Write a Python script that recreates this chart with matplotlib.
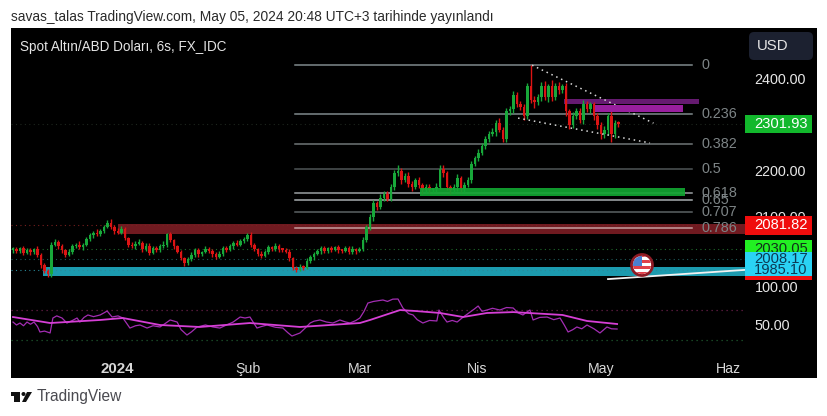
import matplotlib
matplotlib.use("Agg")
import matplotlib.pyplot as plt
from matplotlib.patches import Rectangle, Circle, Polygon, FancyBboxPatch
from matplotlib.transforms import IdentityTransform

W, H = 828, 416
plt.rcParams["font.family"] = ["Liberation Sans", "DejaVu Sans"]

# 6h candles (open = previous close)
closes = [
    2030, 2026, 2032, 2022, 2028, 2024, 2030, 2018, 1996, 1982,
    1975, 2040, 2045, 2036, 2028, 2018, 2024, 2036, 2040, 2034,
    2040, 2052, 2060, 2066, 2062, 2070, 2078, 2088, 2078, 2070,
    2066, 2074, 2054, 2040, 2036, 2042, 2044, 2030, 2038, 2022,
    2032, 2028, 2036, 2040, 2062, 2050, 2036, 2024, 2010, 2000,
    2008, 2018, 2028, 2020, 2024, 2030, 2026, 2020, 2014, 2020,
    2032, 2028, 2036, 2044, 2040, 2048, 2052, 2060, 2040, 2030,
    2020, 2016, 2024, 2034, 2030, 2038, 2030, 2028, 2024, 2010,
    1990, 1985, 1992, 1990, 2005, 2012, 2020, 2026, 2032, 2026,
    2032, 2028, 2034, 2028, 2026, 2032, 2024, 2030, 2026, 2030,
    2050, 2078, 2100, 2130, 2122, 2142, 2150, 2140, 2165, 2195,
    2200, 2180, 2190, 2172, 2165, 2180, 2170, 2158, 2166, 2158,
    2160, 2165, 2205, 2195, 2165, 2158, 2165, 2185, 2160, 2170,
    2180, 2215, 2228, 2240, 2255, 2270, 2280, 2285, 2305, 2290,
    2270, 2330, 2335, 2365, 2345, 2340, 2320, 2385, 2355, 2350,
    2360, 2385, 2360, 2385, 2360, 2385, 2375, 2385, 2330, 2300,
    2320, 2330, 2310, 2345, 2335, 2345, 2320, 2300, 2280, 2290,
    2320, 2280, 2305, 2301.93,
]
wick_up = [
    5, 4, 3, 6, 4, 5, 3, 6, 4, 3,
    4, 6, 8, 4, 5, 3, 6, 5, 4, 7,
    4, 5, 6, 4, 7, 3, 5, 6, 8, 4,
    5, 6, 4, 3, 6, 5, 8, 4, 6, 5,
    6, 4, 5, 8, 4, 6, 3, 4, 5, 3,
    4, 6, 5, 4, 3, 6, 5, 4, 4, 5,
    4, 6, 5, 3, 7, 4, 5, 6, 8, 4,
    3, 5, 4, 6, 4, 5, 4, 3, 5, 7,
    3, 4, 6, 4, 5, 6, 3, 5, 4, 6,
    3, 5, 4, 6, 3, 5, 4, 6, 3, 5,
    6, 5, 6, 7, 5, 8, 6, 7, 6, 8,
    12, 6, 5, 8, 6, 5, 8, 4, 6, 5,
    4, 8, 8, 8, 6, 4, 6, 8, 5, 6,
    7, 6, 5, 8, 6, 5, 6, 8, 6, 10,
    6, 8, 6, 8, 6, 8, 6, 6, 45, 8,
    8, 8, 10, 5, 12, 6, 8, 5, 6, 4,
    8, 6, 8, 10, 8, 6, 6, 5, 6, 8,
    6, 10, 6, 3,
]
wick_dn = [
    6, 5, 4, 5, 3, 6, 4, 5, 6, 4,
    6, 5, 3, 5, 6, 4, 3, 5, 4, 3,
    5, 3, 4, 6, 3, 4, 5, 3, 4, 6,
    4, 3, 5, 6, 4, 5, 3, 6, 4, 5,
    3, 5, 4, 3, 6, 4, 5, 3, 4, 6,
    4, 3, 4, 6, 5, 3, 4, 6, 5, 3,
    5, 4, 3, 6, 4, 3, 5, 4, 6, 5,
    4, 6, 3, 4, 5, 3, 6, 4, 3, 5,
    5, 4, 3, 6, 3, 4, 5, 3, 6, 4,
    4, 5, 3, 6, 4, 3, 5, 4, 6, 3,
    4, 5, 6, 8, 6, 5, 8, 6, 5, 6,
    6, 8, 5, 6, 8, 5, 6, 7, 5, 6,
    5, 6, 4, 8, 6, 7, 5, 8, 6, 5,
    5, 6, 5, 6, 6, 8, 6, 5, 8, 6,
    8, 6, 8, 10, 6, 8, 10, 6, 8, 14,
    6, 8, 6, 10, 8, 6, 8, 6, 10, 8,
    6, 8, 6, 8, 6, 8, 10, 8, 10, 8,
    12, 16, 8, 6,
]

# oscillator in the lower pane, read at irregular bars
rsi_bars = [
    0, 1, 2, 3, 4, 5, 6, 7, 7.7, 9, 10.6, 11.4, 12.5, 14, 15.4, 17, 18.3, 19.1,
    20.3, 21.4, 23, 24.9, 26, 26.9, 28.3, 30, 31.4, 32.5, 33.4, 35, 36.3, 38.3,
    40, 42, 43.5, 44.9, 46.9, 48, 49.7, 51, 52.6, 55, 57.1, 59.1, 61, 62.9, 64.9,
    66.3, 67.7, 69.7, 71, 72.6, 75, 77.1, 78.5, 79.7, 82, 83.5, 84.9, 86, 87.7,
    89.5, 91.4, 93.4, 95, 96.3, 98, 99.1, 100.3, 101.4, 103, 105.7, 107, 108.5,
    110, 111.4, 113, 114.3, 115.5, 117.1, 119, 121.1, 121.7, 123, 124, 125.5,
    126.9, 128.5, 130.6, 131.8, 132.9, 134, 135.4, 137, 139.1, 141, 142.9, 144.3,
    145.7, 146.8, 147.7, 148.6, 150.5, 152.6, 154.5, 156.3, 157.5, 158.6, 160,
    161.1, 162.5, 164, 166, 167.7, 169.7, 171, 172.6,
]
rsi_vals = [
    53.9, 50, 52.6, 49, 53.9, 51, 53.9, 48, 40.8, 42, 39.5, 59.2, 62, 59.2, 52.6,
    56, 59.2, 53.9, 60, 63.2, 61, 63.2, 66, 68.4, 60.5, 62, 59.2, 52, 46, 49, 50,
    46, 49, 47.4, 52, 56.6, 53.9, 44, 36.8, 41, 47.4, 50, 47.4, 46, 50, 53.9, 60.5,
    59.2, 60.5, 46, 48, 50, 47, 46, 40, 35.5, 39.5, 46, 52.6, 55, 56.6, 54, 52.6,
    56.6, 54, 52.6, 56, 59.2, 68, 78.9, 81, 82.9, 81, 84, 84.2, 72.4, 65, 63.2, 57,
    52.6, 56, 55.3, 69.7, 60, 53.9, 56, 53.9, 60, 67, 71, 75, 68, 69.7, 72, 69.7,
    73, 72.4, 66, 63.2, 67, 69.7, 56.6, 60, 60.5, 57, 59.2, 50, 40.8, 44, 47.4, 45,
    50, 45, 39.5, 47.4, 45, 44.7,
]
ma_bars = [0, 10.6, 24.9, 31.4, 42, 53.4, 67.7, 82, 99.1, 102, 110.6, 115, 122,
           128.6, 135.4, 142.9, 157, 164, 172.6]
ma_vals = [60.5, 52.6, 56.6, 59.2, 50, 47.4, 52.6, 47.4, 52.6, 56.6, 69.7, 68.4,
           65.8, 60.5, 65.8, 67, 63.2, 55.3, 51.3]

fib_high = 2430
fib_low = 1979
fib_levels = [0, 0.236, 0.382, 0.5, 0.618, 0.65, 0.707, 0.786]
fib_labels = ["0", "0.236", "0.382", "0.5", "0.618", "0.65", "0.707", "0.786"]
fib_colors = ["#7f8a8c", "#7f8a8c", "#6f7678", "#4f5557", "#9aa0a2", "#a8adaf", "#5c6264", "#c4a0a0"]

month_labels = ["2024", "Şub", "Mar", "Nis", "May", "Haz"]
month_bars = [29.7, 67.1, 99.1, 132.6, 168, 204.3]

price_ticks = [2400, 2200, 2100]
rsi_ticks = [50, 100]


def px_box(left, top, right, bottom):
    return [left / W, 1 - bottom / H, (right - left) / W, (bottom - top) / H]


def bar_at(x):
    return (x - 13) / 3.5


def price_at(y):
    return 2400 - (y - 79) * 2.174


fig = plt.figure(figsize=(W / 100, H / 100), dpi=100, facecolor="white")

bg = fig.add_axes(px_box(11, 28, 817, 378), facecolor="black", zorder=-1)
bg.set_xticks([])
bg.set_yticks([])
for s in bg.spines.values():
    s.set_visible(False)

ax = fig.add_axes(px_box(11, 28, 745, 280), facecolor="none")
ax2 = fig.add_axes(px_box(11, 280, 745, 350), facecolor="none")
for a in (ax, ax2):
    for s in a.spines.values():
        s.set_visible(False)
    a.set_xlim(bar_at(11), bar_at(745))
    a.yaxis.tick_right()
    a.tick_params(axis="y", length=0, pad=7, labelsize=10.4, labelcolor="#e6e6e6")
    a.tick_params(axis="x", length=0, labelsize=10.2, labelcolor="#d8d8d8")

ax.set_ylim(price_at(280), price_at(28))
ax.set_yticks(price_ticks, [f"{p:.2f}" for p in price_ticks])
ax.set_xticks([])

# zones
ax.add_patch(Rectangle((bar_at(118), 2063), bar_at(745) - bar_at(118), 22, color="#701a20", lw=0, zorder=1))
ax.add_patch(Rectangle((bar_at(43), 1972), bar_at(745) - bar_at(43), 19, color="#1c9aae", lw=0, zorder=1))
ax.add_patch(Rectangle((bar_at(564), 2346), bar_at(699) - bar_at(564), 11, color="#651a70", lw=0, zorder=1))
ax.add_patch(Rectangle((bar_at(595), 2328), bar_at(683) - bar_at(595), 16, color="#981f9e", lw=0, zorder=4))
ax.add_patch(Rectangle((bar_at(420), 2146), bar_at(685) - bar_at(420), 17, color="#12a632", lw=0, alpha=0.92, zorder=4))

# price lines
for p, c in [(2301.93, "#1e261e"), (2081.82, "#7a2020"), (2030.05, "#1f6a2c"), (2008.17, "#1f5a5a"), (1985.10, "#2a8a9a")]:
    ax.axhline(p, color=c, lw=0.8, ls=(0, (1, 3)), zorder=1.5)

# fib retracement
for lev, lab, c in zip(fib_levels, fib_labels, fib_colors):
    y = fib_high - (fib_high - fib_low) * lev
    ax.plot([bar_at(295), bar_at(692)], [y, y], color=c, lw=1.1, zorder=2)
    ax.text(bar_at(702), y, lab, color="#7d8486", fontsize=10.4, va="center", zorder=2.2)

# candles
prev = 2028
for i, (c, up, dn) in enumerate(zip(closes, wick_up, wick_dn)):
    col = "#18a83a" if c >= prev else "#dc1414"
    top, low = max(prev, c), min(prev, c)
    ax.vlines(i, low - dn, top + up, color=col, lw=1.0, zorder=3)
    ax.bar(i, max(top - low, 4), bottom=low, width=0.72, color=col, lw=0, zorder=3)
    prev = c

# wedge
ax.plot([148.3, 183], [2430, 2304], color="#d8d8d8", lw=1.1, ls=(0, (1, 2.5)), zorder=3.5)
ax.plot([144.3, 182], [2315, 2261], color="#d8d8d8", lw=1.1, ls=(0, (1, 2.5)), zorder=3.5)
# white trend line to the scale
ax.plot([170, bar_at(745)], [1965, 1985], color="#f2f2f2", lw=1.3, zorder=3.6)

# last-price tags on the scale
tf = ax.get_yaxis_transform()
tag_w = (812 - 745) / (745 - 11)


def tag(price, color, textcolor, half_px, z):
    hh = half_px * 2.174
    ax.add_patch(Rectangle((1.0, price - hh), tag_w, 2 * hh, transform=tf, color=color, lw=0, clip_on=False, zorder=z))
    ax.text(1 + 9 / 734, price, f"{price:.2f}", transform=tf, color=textcolor, fontsize=10.6,
            va="center", ha="left", clip_on=False, zorder=z + 0.1)


tag(2301.93, "#12b82c", "white", 9, 5)
tag(2081.82, "#f00d0d", "white", 9.5, 5)
tag(2030.05, "#22f022", "#10301a", 9.5, 5)
tag(2008.17, "#2ad3f5", "#0c3a55", 7, 5.2)
tag(1985.10, "#2ad3f5", "#0c3a55", 6, 5.4)
ax.add_patch(Rectangle((1.0, price_at(279.5)), tag_w, 8, transform=tf, color="#f00d0d", lw=0, clip_on=False, zorder=5.6))

# news flag
ident = IdentityTransform()
cx, cy = ax.transData.transform((bar_at(642), price_at(265)))
fig.add_artist(Circle((cx, cy), 10.5, transform=ident, fc="white", ec="#8e1a24", lw=2, zorder=6))
clip = Circle((cx, cy), 9, transform=ident)
for k, c in enumerate(["#e0404a", "white", "#e0404a", "white", "#e0404a", "white", "#e0404a"]):
    st = Rectangle((cx - 10, cy - 10 + k * 3), 20, 3, transform=ident, fc=c, lw=0, zorder=6.1)
    fig.add_artist(st)
    st.set_clip_path(clip)
canton = Rectangle((cx - 10, cy - 1), 10, 11, transform=ident, fc="#4a7fd0", lw=0, zorder=6.2)
fig.add_artist(canton)
canton.set_clip_path(clip)

# lower pane
ax2.set_ylim(100 - (350 - 287) / 0.76, 100 + 7 / 0.76)
ax2.set_yticks(rsi_ticks, [f"{p:.2f}" for p in rsi_ticks])
ax2.set_xticks(month_bars, month_labels)
ax2.tick_params(axis="x", pad=8.5)
ax2.get_xticklabels()[0].set_fontweight("bold")
ax2.get_xticklabels()[0].set_fontsize(10.8)
ax2.axhline(70, color="#6a1f4a", lw=0.9, ls=(0, (1, 3)))
ax2.axhline(30, color="#1f5a2f", lw=0.9, ls=(0, (1, 3)))
ax2.plot(rsi_bars, rsi_vals, color="#a32db3", lw=0.9)
ax2.plot(ma_bars, ma_vals, color="#d63fd6", lw=1.3)

# header, legend, footer
fig.text(11 / W, 1 - 17 / H, "savas_talas TradingView.com, May 05, 2024 20:48 UTC+3 tarihinde yayınlandı",
         fontsize=9.95, color="#2a2a2a", va="center", ha="left")
fig.text(20 / W, 1 - 47 / H, "Spot Altın/ABD Doları, 6s, FX_IDC", fontsize=9.75, color="#e4e4e4", va="center", ha="left")
fig.add_artist(FancyBboxPatch((753, H - 56), 56, 20, boxstyle="round,pad=4,rounding_size=5", transform=ident,
                              fc="#1c2130", ec="none", zorder=3))
fig.text(773 / W, 1 - 46 / H, "USD", fontsize=10.8, color="#e4e4e4", va="center", ha="center", zorder=4)

fig.text(37 / W, 1 - 397 / H, "TradingView", fontsize=11.2, color="#4a4a50", va="center", ha="left")
# logo
fig.add_artist(Rectangle((11, H - 396), 9, 4, transform=ident, fc="#111", lw=0))
fig.add_artist(Rectangle((14, H - 402), 6, 7, transform=ident, fc="#111", lw=0))
fig.add_artist(Circle((23.5, H - 394), 2, transform=ident, fc="#111", lw=0))
fig.add_artist(Polygon([(22, H - 402), (27, H - 392), (32, H - 392), (26, H - 402)], transform=ident, fc="#111", lw=0))

fig.savefig("out.png", dpi=100, facecolor="white")
